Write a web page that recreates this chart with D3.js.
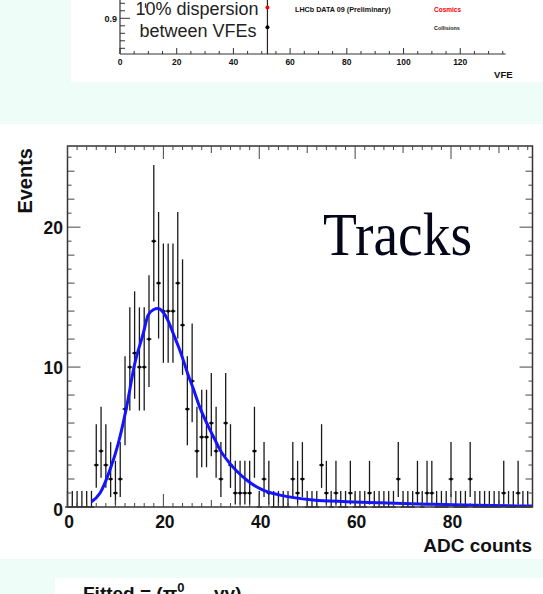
<!DOCTYPE html>
<html><head><meta charset="utf-8">
<script src="https://cdn.jsdelivr.net/npm/d3@7/dist/d3.min.js"></script>
<style>html,body{margin:0;padding:0;background:#effdf8;}svg{display:block;}</style>
</head><body>
<script>
// ---------- DATA ----------
// top strip (VFE gain plot, partial)
const vfeTicksMajor = [0, 20, 40, 60, 80, 100, 120];
const vfeYTickLabels = [0.9];
const cosmicsPoints = [{vfe: 52, v: 0.929}];
const collisionPoints = [{vfe: 52, v: 0.876, lo: 0.80, hi: 0.96}];
const stubPoints = [{vfe: 9, lo: 0.928, hi: 0.940}];

// main histogram: events per ADC count bin (bin centres 0..96)
const counts = [
  0,0,0,0,0,0,
  3,4,3,2,1,2,
  7,10,11,10,10,12,
  19,16,14,14,14,16,
  13,7,9,4,5,5,
  6,4,2,6,3,1,
  1,1,1,4,0,2,
  1,0,0,0,0,2,
  1,2,0,0,0,3,
  1,0,1,0,0,1,
  0,0,0,1,0,0,
  0,0,0,2,0,0,
  0,1,0,1,1,0,
  0,0,2,0,0,0,
  2,0,0,0,0,0,
  0,1,0,0,1,0,
  0
];
const xTickLabels = [0, 20, 40, 60, 80];
const yTickLabels = [0, 10, 20];
// fitted curve
const fitX = [5.0,6.8,8.8,10.6,12.3,14.0,15.8,16.8,17.9,18.8,20.0,21.0,22.0,23.1,24.1,25.1,26.2,27.4,28.5,29.6,30.7,31.8,33.9,35.5,37.3,40.8,44.3,51.2,58.2,65.1,75,85,96.9];
const fitY = [0.38,1.0,2.6,4.55,7.1,10.2,12.4,13.7,14.1,14.18,13.9,13.3,12.45,11.5,10.55,9.5,8.5,7.3,6.4,5.6,4.85,4.1,3.1,2.5,1.95,1.2,0.85,0.5,0.38,0.3,0.2,0.12,0.07];

// ---------- helpers ----------
// Garwood (Poisson central 68.27%) interval
function pGamma(k, yy){ let s=0, t=1; for(let j=0;j<k;j++){ if(j>0) t*=yy/j; s+=t; } return 1-Math.exp(-yy)*s; }
function solve(k, p){ let a=0,b=100; for(let it=0;it<80;it++){ const m=(a+b)/2; if(pGamma(k,m)<p) a=m; else b=m; } return (a+b)/2; }
const alpha = 1-0.682689;
function errLo(n){ return n>0 ? n - solve(n, alpha/2) : 0; }
function errHi(n){ return n>0 ? solve(n+1, 1-alpha/2) - n : -Math.log(alpha); }

const W=543, H=594;
const svg = d3.select("body").append("svg").attr("width",W).attr("height",H);
svg.append("rect").attr("width",W).attr("height",H).attr("fill","#effdf8");
const SANS = "'Liberation Sans', Arial, Helvetica, sans-serif";

// ---------- TOP STRIP ----------
svg.append("rect").attr("x",71).attr("y",0).attr("width",472).attr("height",82).attr("fill","#ffffff");
const tx = d3.scaleLinear().domain([0,136]).range([120,505.6]);
const ty = d3.scaleLinear().domain([0.8048,0.9488]).range([54,0]);
const topG = svg.append("g");
topG.append("line").attr("x1",tx(0)).attr("x2",tx(136)).attr("y1",54).attr("y2",54).attr("stroke","#333").attr("stroke-width",1.2);
topG.append("line").attr("x1",120).attr("x2",120).attr("y1",0).attr("y2",54).attr("stroke","#333").attr("stroke-width",1.2);
d3.range(0,136,5).forEach(v=>{
  const L = v%20===0 ? 6 : 3;
  topG.append("line").attr("x1",tx(v)).attr("x2",tx(v)).attr("y1",54).attr("y2",54-L).attr("stroke","#333").attr("stroke-width",1);
});
[0.82,0.84,0.86,0.88,0.90,0.92,0.94].forEach(v=>{
  const L = Math.abs(v-0.9)<1e-6 ? 10 : 5;
  topG.append("line").attr("x1",120).attr("x2",120+L).attr("y1",ty(v)).attr("y2",ty(v)).attr("stroke","#333").attr("stroke-width",1);
});
vfeTicksMajor.forEach(v=>{
  topG.append("text").attr("x",tx(v)).attr("y",65).attr("text-anchor","middle")
    .attr("font-family",SANS).attr("font-weight","bold").attr("font-size",8.5).attr("fill","#111").text(v);
});
vfeYTickLabels.forEach(v=>{
  topG.append("text").attr("x",117).attr("y",ty(v)+3.2).attr("text-anchor","end")
    .attr("font-family",SANS).attr("font-weight","bold").attr("font-size",9).attr("fill","#111").text(v.toFixed(1));
});
topG.append("text").attr("x",tx(136)+7).attr("y",78).attr("text-anchor","end")
  .attr("font-family",SANS).attr("font-weight","bold").attr("font-size",9.5).attr("fill","#111").text("VFE");
collisionPoints.forEach(d=>{
  topG.append("line").attr("x1",tx(d.vfe)).attr("x2",tx(d.vfe)).attr("y1",Math.max(0,ty(d.hi))).attr("y2",Math.min(54,ty(d.lo))).attr("stroke","#222").attr("stroke-width",1.2);
  topG.append("circle").attr("cx",tx(d.vfe)).attr("cy",ty(d.v)).attr("r",2).attr("fill","#000");
});
stubPoints.forEach(d=>{
  topG.append("line").attr("x1",tx(d.vfe)).attr("x2",tx(d.vfe)).attr("y1",ty(d.hi)).attr("y2",ty(d.lo)).attr("stroke","#333").attr("stroke-width",1.3);
});
cosmicsPoints.forEach(d=>{
  topG.append("circle").attr("cx",tx(d.vfe)).attr("cy",ty(d.v)).attr("r",2).attr("fill","#ff0000");
});
topG.append("text").attr("x",197).attr("y",15).attr("text-anchor","middle")
  .attr("font-family",SANS).attr("font-size",18).attr("fill","#222").text("10% dispersion");
topG.append("text").attr("x",198).attr("y",36.5).attr("text-anchor","middle")
  .attr("font-family",SANS).attr("font-size",18).attr("fill","#222").text("between VFEs");
topG.append("text").attr("x",295).attr("y",11.5)
  .attr("font-family",SANS).attr("font-weight","bold").attr("font-size",7.2).attr("fill","#111").text("LHCb DATA 09 (Preliminary)");
topG.append("text").attr("x",434).attr("y",11.5)
  .attr("font-family",SANS).attr("font-weight","bold").attr("font-size",6.5).attr("fill","#ff0000").text("Cosmics");
topG.append("text").attr("x",434).attr("y",29.5)
  .attr("font-family",SANS).attr("font-weight","bold").attr("font-size",5.4).attr("fill","#222").text("Collisions");

// ---------- MAIN HISTOGRAM ----------
svg.append("rect").attr("x",0).attr("y",124).attr("width",W).attr("height",435).attr("fill","#ffffff");
const x = d3.scaleLinear().domain([0,97]).range([67.5,532.5]);
const y = d3.scaleLinear().domain([0,25.8]).range([507,146]);
const g = svg.append("g");

// error bars and markers
const bins = counts.map((n,i)=>({i, n, lo: n-errLo(n), hi: n+errHi(n)}));
g.selectAll("line.v").data(bins).join("line")
  .attr("x1",d=>x(d.i)).attr("x2",d=>x(d.i)).attr("y1",d=>y(d.lo)).attr("y2",d=>y(d.hi))
  .attr("stroke","#1a1a1a").attr("stroke-width",1.3);
g.selectAll("line.h").data(bins).join("line")
  .attr("x1",d=>x(d.i-0.5)).attr("x2",d=>x(d.i+0.5)).attr("y1",d=>y(d.n)).attr("y2",d=>y(d.n))
  .attr("stroke","#1a1a1a").attr("stroke-width",1.3);
g.selectAll("circle.m").data(bins.filter(d=>d.n>0)).join("circle")
  .attr("cx",d=>x(d.i)).attr("cy",d=>y(d.n)).attr("r",1.6).attr("fill","#000");

// fitted curve
const fit = fitX.map((v,k)=>[v, fitY[k]]);
g.append("path").datum(fit)
  .attr("d", d3.line().x(d=>x(d[0])).y(d=>y(d[1])).curve(d3.curveMonotoneX))
  .attr("fill","none").attr("stroke","#1414ff").attr("stroke-width",3);

// frame
g.append("rect").attr("x",x(0)).attr("y",y(25.8)).attr("width",x(97)-x(0)).attr("height",y(0)-y(25.8))
  .attr("fill","none").attr("stroke","#333").attr("stroke-width",1.5);

// y ticks (left & right, inside)
d3.range(0,26,1).forEach(v=>{
  const L = v%10===0 ? 13 : (v%2===0 ? 7 : 4);
  g.append("line").attr("x1",x(0)).attr("x2",x(0)+L).attr("y1",y(v)).attr("y2",y(v)).attr("stroke","#444").attr("stroke-width",1);
  g.append("line").attr("x1",x(97)).attr("x2",x(97)-L).attr("y1",y(v)).attr("y2",y(v)).attr("stroke","#444").attr("stroke-width",1);
});
// x ticks (bottom & top, inside)
d3.range(0,97,2).forEach(v=>{
  const L = v%20===0 ? 13 : (v%10===0 ? 7 : 4);
  g.append("line").attr("x1",x(v)).attr("x2",x(v)).attr("y1",y(0)).attr("y2",y(0)-L).attr("stroke","#444").attr("stroke-width",1);
  g.append("line").attr("x1",x(v)).attr("x2",x(v)).attr("y1",y(25.8)).attr("y2",y(25.8)+L).attr("stroke","#444").attr("stroke-width",1);
});

// tick labels
xTickLabels.forEach(v=>{
  g.append("text").attr("x",x(v)+1.5).attr("y",528).attr("text-anchor","middle")
    .attr("font-family",SANS).attr("font-weight","bold").attr("font-size",17.5).attr("fill","#111").text(v);
});
yTickLabels.forEach(v=>{
  g.append("text").attr("x",63).attr("y",y(v)+(v===0?9:7)).attr("text-anchor","end")
    .attr("font-family",SANS).attr("font-weight","bold").attr("font-size",17.5).attr("fill","#111").text(v);
});
// axis titles
g.append("text").attr("transform","translate(31.5,148) rotate(-90)").attr("text-anchor","end")
  .attr("font-family",SANS).attr("font-weight","bold").attr("font-size",20).attr("fill","#111").text("Events");
g.append("text").attr("x",532).attr("y",552).attr("text-anchor","end")
  .attr("font-family",SANS).attr("font-weight","bold").attr("font-size",19).attr("fill","#111").text("ADC counts");
// label
g.append("text").attr("x",323).attr("y",255).attr("textLength",149).attr("lengthAdjust","spacingAndGlyphs")
  .attr("font-family","'Liberation Serif', 'Times New Roman', serif").attr("font-size",62).attr("fill","#06061a").text("Tracks");

// ---------- BOTTOM PANEL (cut off at the picture edge, as in the reference) ----------
svg.append("rect").attr("x",55).attr("y",578).attr("width",488).attr("height",16).attr("fill","#ffffff");
const ft = svg.append("text").attr("x",83).attr("y",600)
  .attr("font-family",SANS).attr("font-weight","bold").attr("font-size",19).attr("fill","#111");
ft.append("tspan").text("Fitted = (π");
ft.append("tspan").attr("dy",-8).attr("font-size",13).text("0");
ft.append("tspan").attr("dy",8).text(" → γγ)");
</script>
</body></html>
